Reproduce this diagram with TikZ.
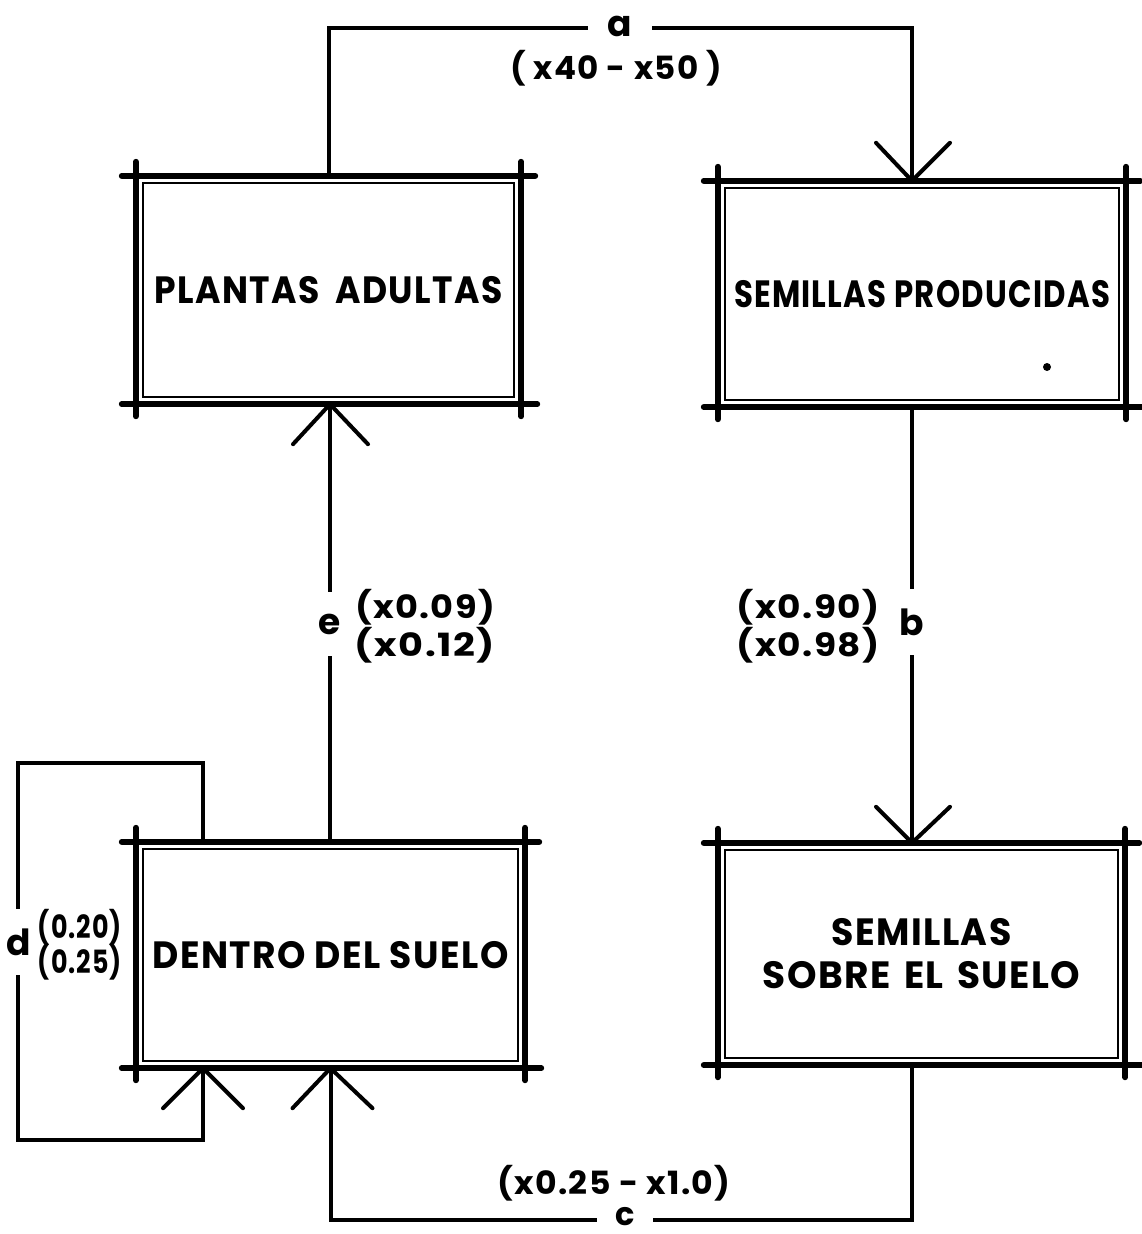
\documentclass[tikz,border=0pt]{standalone}
\usepackage{fontspec}
\usepackage{graphicx}
\setmainfont{Poppins}
\newcommand\fitw[2]{\resizebox{#1}{\height}{#2}}
\newcommand\stageframe[1]{%
  \draw[frame] ([xshift=-14pt]#1.north west) -- ([xshift=14pt]#1.north east);
  \draw[frame] ([xshift=-14pt]#1.south west) -- ([xshift=16pt]#1.south east);
  \draw[frame] ([yshift=14pt]#1.north west) -- ([yshift=-12pt]#1.south west);
  \draw[frame] ([yshift=14pt]#1.north east) -- ([yshift=-12pt]#1.south east);
  \draw[innerline] ([xshift=7pt,yshift=-7pt]#1.north west) rectangle ([xshift=-7pt,yshift=7pt]#1.south east);
}
\begin{document}
\begin{tikzpicture}[x=1pt,y=-1pt,
  stage/.style={inner sep=0pt, align=center, font=\fontsize{38}{43}\selectfont\bfseries\addfontfeature{LetterSpace=4}},
  frame/.style={line width=6pt, line cap=round},
  innerline/.style={line width=2pt},
  conn/.style={line width=4pt, line join=miter},
  arm/.style={line width=4pt, line cap=round, line join=miter},
  lab/.style={inner sep=0pt, font=\fontsize{32}{34}\selectfont\bfseries\addfontfeature{LetterSpace=4}},
  gap/.style={lab, fill=white, inner xsep=6pt, font=\fontsize{36}{38}\selectfont\bfseries},
]
\useasboundingbox (0,0) rectangle (1141,1234);
\fill[white] (0,0) rectangle (1141,1234);

% stages
\node[stage, minimum width=385pt, minimum height=228pt] (PA) at (328.5,290) {\fitw{348pt}{PLANTAS\hspace{8pt} ADULTAS}};
\node[stage, minimum width=408pt, minimum height=226pt] (SP) at (922,294) {\fitw{376pt}{SEMILLAS PRODUCIDAS}};
\node[stage, minimum width=389pt, minimum height=226pt] (DS) at (330.5,955) {\fitw{356pt}{DENTRO DEL SUELO}};
\node[stage, minimum width=407pt, minimum height=222pt] (SSS) at (921.5,954) {\fitw{180pt}{SEMILLAS}\\\fitw{318pt}{SOBRE\hspace{4pt} EL\hspace{4pt} SUELO}};
\stageframe{PA}
\stageframe{SP}
\stageframe{DS}
\stageframe{SSS}
\fill (1047,367) circle (4pt);

% helper coordinates
\coordinate (atop) at (330,28);
\coordinate (ax) at (912,28);
\coordinate (bx) at (912,0);
\coordinate (cbot) at (625,1220);
\coordinate (dx) at (203,0);
\coordinate (dtl) at (18,763);
\coordinate (dbl) at (18,1140);
\coordinate (ex) at (330,0);

% a
\draw[conn] (PA.north) -- (PA.north |- atop) -- (ax) -- (ax |- SP.north);
\draw[arm] (ax |- SP.north) ++(-36,-38) -- (ax |- SP.north) -- ++(38,-38);
% b
\draw[conn] (bx |- SP.south) -- (bx |- SSS.north);
\draw[arm] (bx |- SSS.north) ++(-36,-36) -- (bx |- SSS.north) -- ++(38,-36);
% c
\draw[conn] (bx |- SSS.south) |- (cbot) -| (DS.south);
\draw[arm] (DS.south) ++(-38,40) -- (DS.south) -- ++(42,40);
% d
\draw[conn] (dx |- DS.north) |- (dtl) -- (dbl) -| (dx |- DS.south);
\draw[arm] (dx |- DS.south) ++(-40,40) -- (dx |- DS.south) -- ++(40,40);
% e
\draw[conn] (ex |- DS.north) -- (ex |- PA.south);
\draw[arm] (ex |- PA.south) ++(-37,40) -- (ex |- PA.south) -- ++(38,40);

% labels
\node[gap, inner xsep=20pt] (la) at (620,26) {a};
\node[lab] (la2) at (616,68) {\fitw{212pt}{( x40 - x50 )}};
\node[gap, inner ysep=20pt] (lb) at (912,622) {b};
\node[lab] (lb1) at (808,607) {\fitw{143pt}{(x0.90)}};
\node[lab] (lb2) at (808,645) {\fitw{143pt}{(x0.98)}};
\node[lab] (lc1) at (614,1183) {\fitw{233pt}{(x0.25 - x1.0)}};
\node[gap, inner xsep=18pt, inner ysep=0pt, font=\fontsize{32}{34}\selectfont\bfseries] (lc) at (625,1217) {c};
\node[gap, inner ysep=20pt, inner xsep=4pt] (ld) at (19,942) {d};
\node[lab] (ld1) at (80,927) {\fitw{84pt}{(0.20)}};
\node[lab] (ld2) at (80,962) {\fitw{84pt}{(0.25)}};
\node[gap, inner ysep=22pt] (le) at (330,624) {e};
\node[lab] (le1) at (425,607) {\fitw{140pt}{(x0.09)}};
\node[lab] (le2) at (425,645) {\fitw{140pt}{(x0.12)}};
\end{tikzpicture}
\end{document}
